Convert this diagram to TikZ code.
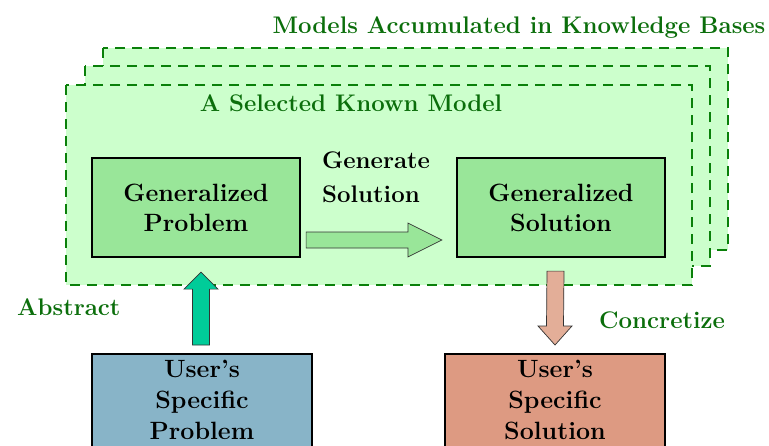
\documentclass[tikz,border=0pt]{standalone}
\usepackage{tikz}
\usetikzlibrary{calc}
\definecolor{panelfill}{HTML}{CCFFCC}
\definecolor{paneledge}{HTML}{0A800A}
\definecolor{labelgreen}{HTML}{0B6E0B}
\definecolor{genfill}{HTML}{99E699}
\definecolor{abstractfill}{HTML}{00CC99}
\definecolor{concretefill}{HTML}{E3AE98}
\definecolor{probfill}{HTML}{88B4C8}
\definecolor{solfill}{HTML}{DD9A82}
\tikzset{
	panel/.style={fill=panelfill, draw=paneledge, line width=2.5pt, dash pattern=on 10pt off 7pt},
	greentext/.style={text=labelgreen, inner sep=0pt, font=\fontsize{24}{30}\selectfont\bfseries},
	genbox/.style={draw=black, line width=2.2pt, fill=genfill, minimum width=208pt, minimum height=99pt, align=center, font=\fontsize{25}{30}\selectfont\bfseries},
	userbox/.style={draw=black, line width=2.2pt, anchor=north, minimum width=220pt, inner ysep=6.5pt, align=center, font=\fontsize{25}{31}\selectfont\bfseries},
	blockarrow/.style={draw=black!80, line width=0.7pt},
}
\begin{document}
\begin{tikzpicture}[x=1pt, y=-1pt]
	\useasboundingbox (0,0) rectangle (769,445);
	\clip (0,0) rectangle (769,445);

	% knowledge bases
	\filldraw [panel] (103,48) rectangle (728,250);
	\filldraw [panel] (85,66) rectangle (710,266);
	\filldraw [panel] (66,85) rectangle (692,285);
	\node [greentext, anchor=base] (kb) at (519,33) {Models Accumulated in Knowledge Bases};
	\node [greentext, anchor=base] (km) at (351,111) {A Selected Known Model};

	% generalized boxes
	\node [genbox] (gp) at (196,207.5) {Generalized\\Problem};
	\node [genbox] (gs) at (561,207.5) {Generalized\\Solution};

	% user boxes
	\node [userbox, fill=probfill] (usp) at (202,353) {User's\\Specific\\Problem};
	\node [userbox, fill=solfill] (uss) at (555,353) {User's\\Specific\\Solution};

	% generate
	\coordinate (genTail) at ($(gp.east)+(5,32.5)$);
	\coordinate (genTip) at ($(gs.west)+(-14,32.5)$);
	\filldraw [blockarrow, fill=genfill] ($(genTail)+(0,-8)$) -- ($(genTip)+(-34,-8)$) -- ($(genTip)+(-34,-17)$) -- (genTip)
		-- ($(genTip)+(-34,17)$) -- ($(genTip)+(-34,8)$) -- ($(genTail)+(0,8)$) -- cycle;
	\node [greentext, text=black, align=left, anchor=north west, font=\fontsize{24}{34}\selectfont\bfseries] (gen) at (322,152) {Generate\\Solution};

	% abstract
	\coordinate (abTail) at ($(usp.north)+(-1,-8)$);
	\coordinate (abTip) at ($(gp.south)+(5,14)$);
	\filldraw [blockarrow, fill=abstractfill] ($(abTail)+(-8.5,0)$) -- ($(abTip)+(-8.5,17)$) -- ($(abTip)+(-17,17)$) -- (abTip)
		-- ($(abTip)+(17,17)$) -- ($(abTip)+(8.5,17)$) -- ($(abTail)+(8.5,0)$) -- cycle;
	\node [greentext, anchor=base west] (ab) at (17,315) {Abstract};

	% concretize
	\coordinate (coTail) at ($(gs.south)+(-5.5,13)$);
	\coordinate (coTip) at ($(uss.north)+(0,-8)$);
	\filldraw [blockarrow, fill=concretefill] ($(coTail)+(-8.5,0)$) -- ($(coTip)+(-8.5,-19)$) -- ($(coTip)+(-17,-19)$) -- (coTip)
		-- ($(coTip)+(17,-19)$) -- ($(coTip)+(8.5,-19)$) -- ($(coTail)+(8.5,0)$) -- cycle;
	\node [greentext, anchor=base west] (co) at (599,328) {Concretize};
\end{tikzpicture}
\end{document}
